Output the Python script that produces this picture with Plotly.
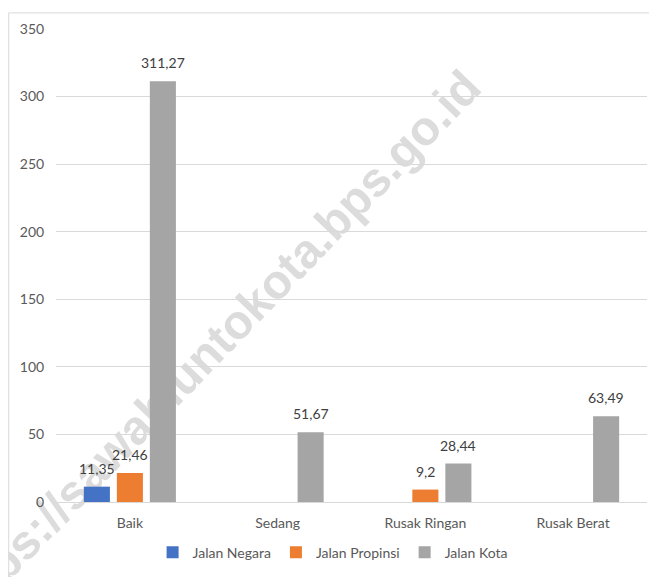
import plotly.graph_objects as go

categories = ["Baik", "Sedang", "Rusak Ringan", "Rusak Berat"]
series_names = ["Jalan Negara", "Jalan Propinsi", "Jalan Kota"]
jalan_negara = [11.35, None, None, None]
jalan_propinsi = [21.46, None, 9.2, None]
jalan_kota = [311.27, 51.67, 28.44, 63.49]
y_ticks = [0, 50, 100, 150, 200, 250, 300, 350]
colors = ["#4472C4", "#ED7D31", "#A5A5A5"]
watermark = "https://sawahluntokota.bps.go.id"

FONT = "Lato"
FS = 14
W, H = 657, 577
ML, MR, MT, MB = 48, 18, 17, 83
BARGAP = 0.33

def fmt(v):
    return str(v).replace(".", ",")

all_series = [jalan_negara, jalan_propinsi, jalan_kota]

fig = go.Figure()
for name, vals, col in zip(series_names, all_series, colors):
    fig.add_trace(go.Bar(
        x=categories, y=vals, name=name,
        marker=dict(color=col, line=dict(width=0)),
    ))

# value labels above bars
plot_w = W - ML - MR
slot = (1 - BARGAP) * plot_w / len(categories) / len(all_series)
annotations = []
for i, vals in enumerate(all_series):
    for cat, v in zip(categories, vals):
        if v is None:
            continue
        annotations.append(dict(
            x=cat, y=v, xref="x", yref="y", text=fmt(v), showarrow=False,
            xanchor="center", yanchor="bottom", yshift=8,
            xshift=(i - (len(all_series) - 1) / 2) * slot,
            font=dict(family=FONT, size=FS, color="#404040"),
        ))

fig.update_layout(
    width=W, height=H,
    margin=dict(l=ML, r=MR, t=MT, b=MB),
    paper_bgcolor="white", plot_bgcolor="white",
    barmode="group", bargap=BARGAP, bargroupgap=0.21,
    font=dict(family=FONT, size=FS, color="#595959"),
    showlegend=True,
    legend=dict(orientation="h", x=0.468, xanchor="center", y=-0.107, yanchor="middle",
                font=dict(family=FONT, size=FS, color="#595959"),
                itemwidth=30, traceorder="normal"),
    xaxis=dict(showgrid=False, showline=True, linecolor="#d9d9d9", linewidth=1,
               ticks="outside", ticklen=8, tickcolor="rgba(0,0,0,0)",
               tickfont=dict(family=FONT, size=FS, color="#595959")),
    yaxis=dict(range=[0, 350], tickvals=y_ticks, showgrid=True, gridcolor="#d9d9d9",
               gridwidth=1, zeroline=False, showline=False,
               ticks="outside", ticklen=8, tickcolor="rgba(0,0,0,0)",
               tickfont=dict(family=FONT, size=FS, color="#595959")),
    annotations=annotations,
    shapes=[
        dict(type="rect", xref="paper", yref="paper", x0=-0.080, x1=1.2, y0=-0.3, y1=1.034,
             line=dict(color="#d9d9d9", width=1), fillcolor="rgba(0,0,0,0)", layer="below"),
        dict(type="line", xref="paper", yref="paper", x0=0.245, y0=0.318, x1=0.269, y1=0.348,
             line=dict(color="rgba(0,0,0,0)", width=0), layer="below",
             label=dict(text=watermark, textangle=-46, textposition="middle",
                        xanchor="center", yanchor="middle",
                        font=dict(family="Liberation Sans", size=48, color="#dcdcdc", weight="bold"))),
    ],
)

fig.write_html("out.html")
